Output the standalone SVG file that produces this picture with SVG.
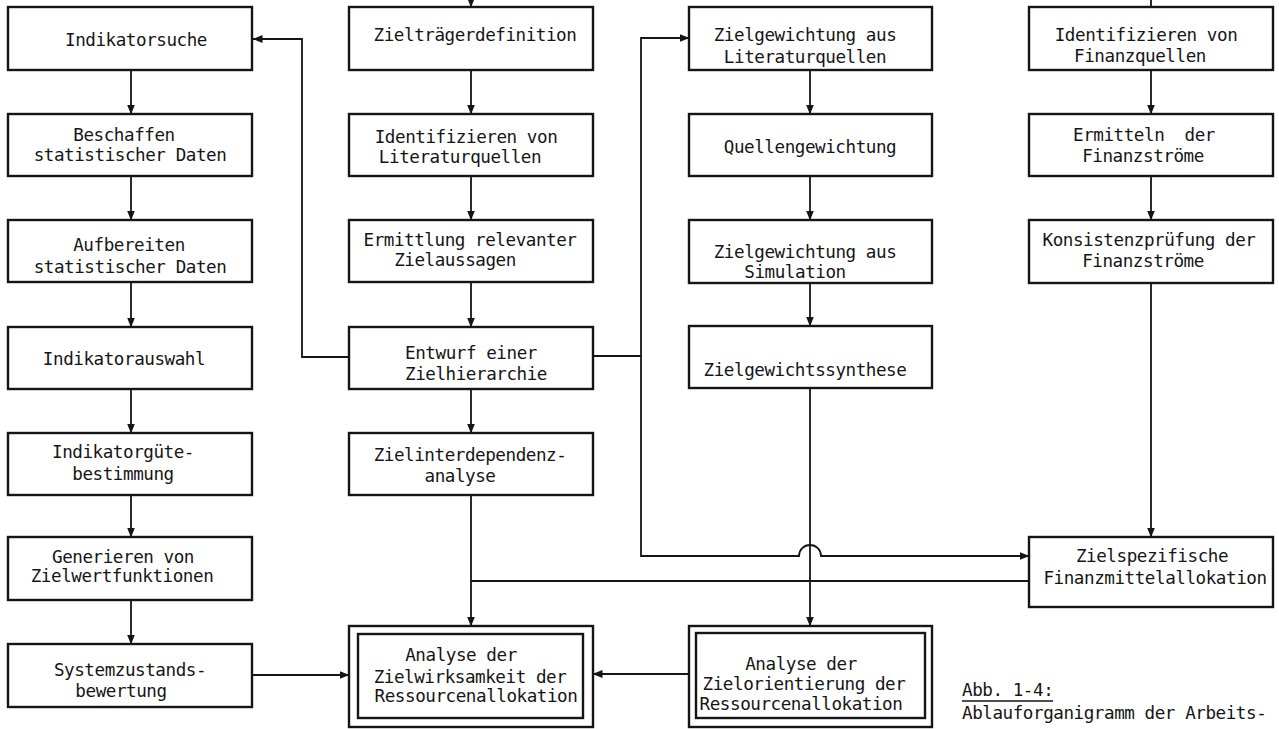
<svg xmlns="http://www.w3.org/2000/svg" width="1279" height="729" viewBox="0 0 1279 729">
<defs>
<style>
.box{fill:#fff;stroke:#151515;stroke-width:2.4}
.t{font-family:"DejaVu Sans Mono","Liberation Mono",monospace;font-size:17.6px;letter-spacing:-0.45px;fill:#151515;text-anchor:middle}
.l{text-anchor:start}
.c{fill:none;stroke:#151515;stroke-width:1.8}
</style>
<marker id="ah" markerWidth="10" markerHeight="8" refX="9.5" refY="4" orient="auto" markerUnits="userSpaceOnUse"><path d="M0,0 L10,4 L0,8 z" fill="#151515"/></marker>
</defs>
<rect width="1279" height="729" fill="#fff"/>

<g id="connectors">
<!-- column 1 -->
<line class="c" x1="131" y1="70" x2="131" y2="114" marker-end="url(#ah)"/>
<line class="c" x1="131" y1="176" x2="131" y2="220" marker-end="url(#ah)"/>
<line class="c" x1="131" y1="282" x2="131" y2="327" marker-end="url(#ah)"/>
<line class="c" x1="131" y1="389" x2="131" y2="433" marker-end="url(#ah)"/>
<line class="c" x1="131" y1="495" x2="131" y2="537" marker-end="url(#ah)"/>
<line class="c" x1="131" y1="600" x2="131" y2="644" marker-end="url(#ah)"/>
<line class="c" x1="252" y1="675" x2="349" y2="675" marker-end="url(#ah)"/>
<!-- column 2 -->
<line class="c" x1="471" y1="-10" x2="471" y2="7" marker-end="url(#ah)"/>
<line class="c" x1="471" y1="70" x2="471" y2="114" marker-end="url(#ah)"/>
<line class="c" x1="471" y1="176" x2="471" y2="220" marker-end="url(#ah)"/>
<line class="c" x1="471" y1="282" x2="471" y2="327" marker-end="url(#ah)"/>
<line class="c" x1="471" y1="389" x2="471" y2="433" marker-end="url(#ah)"/>
<line class="c" x1="471" y1="495" x2="471" y2="626" marker-end="url(#ah)"/>
<!-- feedback left -->
<path class="c" d="M349,357 H302 V39 H253" marker-end="url(#ah)"/>
<!-- feedback right -->
<path class="c" d="M593,356 H641 V38 H689" marker-end="url(#ah)"/>
<path class="c" d="M641,356 V556 H799 A11,11 0 0 1 821,556 H1029" marker-end="url(#ah)"/>
<!-- column 3 -->
<line class="c" x1="810" y1="70" x2="810" y2="114" marker-end="url(#ah)"/>
<line class="c" x1="810" y1="176" x2="810" y2="220" marker-end="url(#ah)"/>
<line class="c" x1="810" y1="283" x2="810" y2="326" marker-end="url(#ah)"/>
<line class="c" x1="810" y1="388" x2="810" y2="626" marker-end="url(#ah)"/>
<line class="c" x1="689" y1="674" x2="593" y2="674" marker-end="url(#ah)"/>
<!-- column 4 -->
<line class="c" x1="1151" y1="0" x2="1151" y2="7"/>
<line class="c" x1="1151" y1="70" x2="1151" y2="114" marker-end="url(#ah)"/>
<line class="c" x1="1151" y1="176" x2="1151" y2="220" marker-end="url(#ah)"/>
<line class="c" x1="1151" y1="283" x2="1151" y2="537" marker-end="url(#ah)"/>
<!-- Finanzmittelallokation to Zielwirksamkeit junction -->
<path class="c" d="M1029,581 H471"/>
</g>

<g id="n-indikatorsuche"><rect class="box" x="8" y="7" width="244" height="63"/><text class="t" x="136" y="46">Indikatorsuche</text></g>
<g id="n-beschaffen"><rect class="box" x="8" y="114" width="244" height="62"/><text class="t" x="124" y="141">Beschaffen</text><text class="t" x="130" y="161">statistischer Daten</text></g>
<g id="n-aufbereiten"><rect class="box" x="8" y="220" width="244" height="62"/><text class="t" x="129" y="251">Aufbereiten</text><text class="t" x="130" y="273">statistischer Daten</text></g>
<g id="n-indikatorauswahl"><rect class="box" x="8" y="327" width="244" height="62"/><text class="t" x="124" y="365">Indikatorauswahl</text></g>
<g id="n-indikatorguete"><rect class="box" x="8" y="433" width="244" height="62"/><text class="t" x="123" y="458">Indikatorgüte-</text><text class="t" x="123" y="480">bestimmung</text></g>
<g id="n-generieren"><rect class="box" x="8" y="537" width="244" height="63"/><text class="t" x="123" y="563">Generieren von</text><text class="t" x="122" y="582">Zielwertfunktionen</text></g>
<g id="n-systemzustand"><rect class="box" x="8" y="644" width="244" height="63"/><text class="t" x="130" y="676">Systemzustands-</text><text class="t" x="121" y="697">bewertung</text></g>

<g id="n-zieltraeger"><rect class="box" x="349" y="7" width="244" height="63"/><text class="t" x="475" y="41">Zielträgerdefinition</text></g>
<g id="n-identlit"><rect class="box" x="349" y="114" width="244" height="62"/><text class="t" x="466" y="143">Identifizieren von</text><text class="t" x="460" y="163">Literaturquellen</text></g>
<g id="n-ermittlung"><rect class="box" x="349" y="220" width="244" height="62"/><text class="t" x="470" y="246">Ermittlung relevanter</text><text class="t" x="455" y="266">Zielaussagen</text></g>
<g id="n-entwurf"><rect class="box" x="349" y="327" width="244" height="62"/><text class="t" x="471" y="359">Entwurf einer</text><text class="t" x="476" y="380">Zielhierarchie</text></g>
<g id="n-interdep"><rect class="box" x="349" y="433" width="244" height="62"/><text class="t" x="470" y="461">Zielinterdependenz-</text><text class="t" x="460" y="482">analyse</text></g>
<g id="n-zielwirksamkeit"><rect class="box" x="349" y="626" width="244" height="101"/><rect class="box" x="358" y="634" width="225" height="84"/><text class="t" x="461" y="661">Analyse der</text><text class="t" x="470" y="683">Zielwirksamkeit der</text><text class="t" x="476" y="702">Ressourcenallokation</text></g>

<g id="n-zgliteratur"><rect class="box" x="689" y="7" width="243" height="63"/><text class="t" x="805" y="41">Zielgewichtung aus</text><text class="t" x="805" y="63">Literaturquellen</text></g>
<g id="n-quellengew"><rect class="box" x="689" y="114" width="243" height="62"/><text class="t" x="810" y="153">Quellengewichtung</text></g>
<g id="n-zgsimulation"><rect class="box" x="689" y="220" width="243" height="63"/><text class="t" x="805" y="258">Zielgewichtung aus</text><text class="t" x="795" y="278">Simulation</text></g>
<g id="n-synthese"><rect class="box" x="689" y="326" width="243" height="62"/><text class="t" x="805" y="376">Zielgewichtssynthese</text></g>
<g id="n-zielorientierung"><rect class="box" x="689" y="626" width="243" height="101"/><rect class="box" x="696" y="633" width="229" height="85"/><text class="t" x="801" y="670">Analyse der</text><text class="t" x="804" y="690">Zielorientierung der</text><text class="t" x="801" y="710">Ressourcenallokation</text></g>

<g id="n-finanzquellen"><rect class="box" x="1029" y="7" width="244" height="63"/><text class="t" x="1146" y="41">Identifizieren von</text><text class="t" x="1140" y="62">Finanzquellen</text></g>
<g id="n-finanzstroeme"><rect class="box" x="1029" y="114" width="244" height="62"/><text class="t" x="1144" y="141" xml:space="preserve">Ermitteln  der</text><text class="t" x="1143" y="162">Finanzströme</text></g>
<g id="n-konsistenz"><rect class="box" x="1029" y="220" width="244" height="63"/><text class="t" x="1149" y="246">Konsistenzprüfung der</text><text class="t" x="1143" y="267">Finanzströme</text></g>
<g id="n-finanzmittel"><rect class="box" x="1029" y="537" width="244" height="70"/><text class="t" x="1152" y="562">Zielspezifische</text><text class="t" x="1155" y="584">Finanzmittelallokation</text></g>

<g id="caption">
<text class="t l" x="962" y="696">Abb. 1-4:</text>
<line x1="962" y1="701" x2="1053" y2="701" stroke="#151515" stroke-width="1.3"/>
<text class="t l" x="962" y="719">Ablauforganigramm der Arbeits-</text>
</g>
</svg>
